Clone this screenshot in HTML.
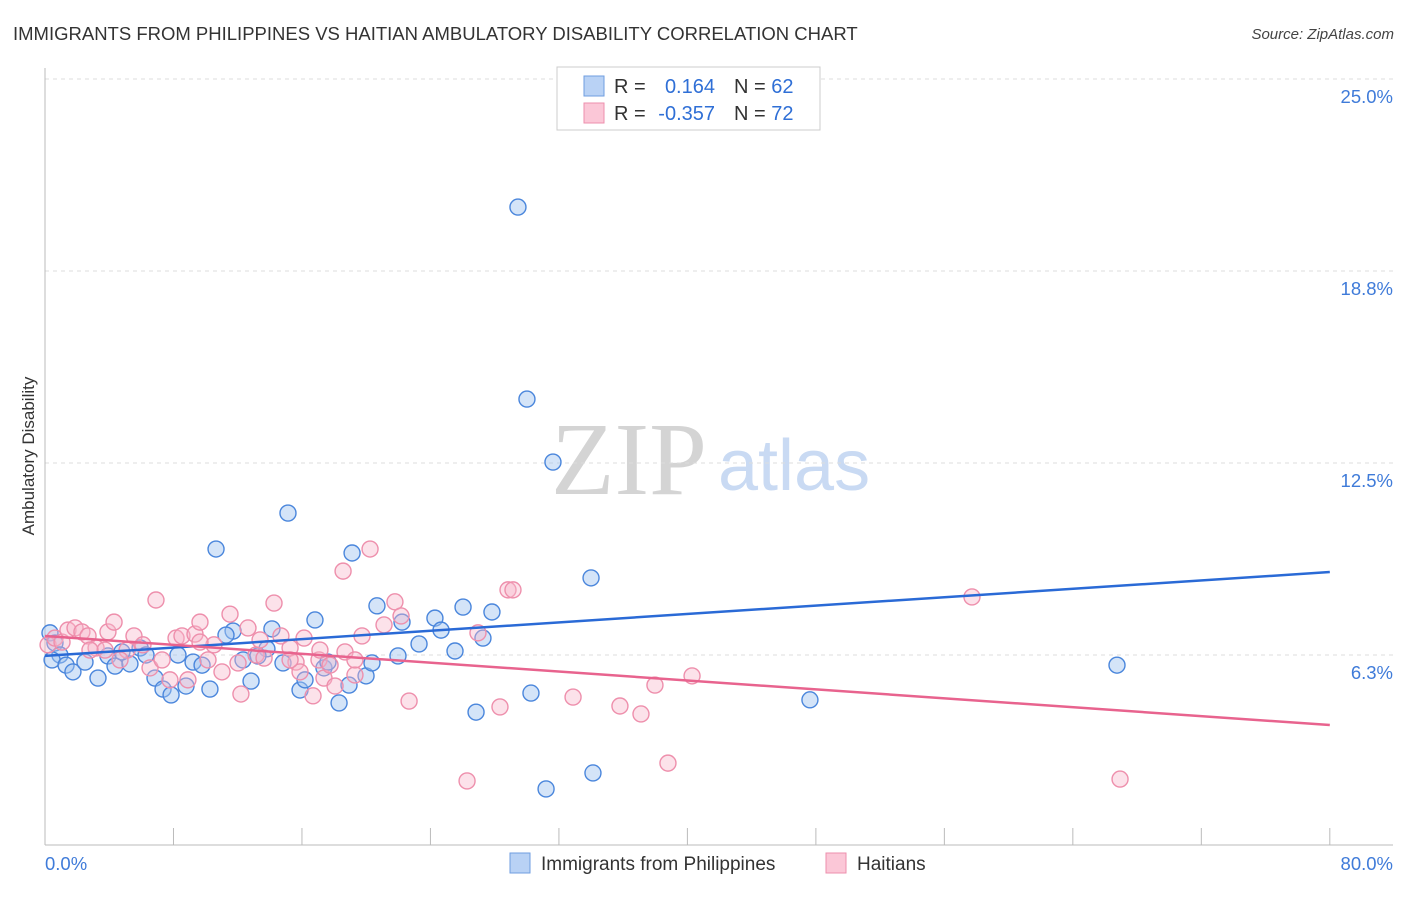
<!DOCTYPE html>
<html><head><meta charset="utf-8"><style>
body{margin:0;background:#fff;font-family:"Liberation Sans",sans-serif;}
</style></head><body>
<svg id="chart" width="1406" height="892" xmlns="http://www.w3.org/2000/svg" style="font-family:'Liberation Sans',sans-serif">
<text x="13" y="40" font-size="18.5" fill="#333">IMMIGRANTS FROM PHILIPPINES VS HAITIAN AMBULATORY DISABILITY CORRELATION CHART</text>
<text x="1394" y="39" font-size="15" fill="#444" font-style="italic" text-anchor="end">Source: ZipAtlas.com</text>
<text x="551" y="494" style="font-family:'Liberation Serif',serif;font-size:104px" fill="#d4d4d4">ZIP</text>
<text x="718" y="490" font-size="72" fill="#c9daf3">atlas</text>
<text transform="translate(34,456) rotate(-90)" font-size="17" fill="#333" text-anchor="middle">Ambulatory Disability</text>
<g id="grid"></g><g id="axes"></g><g id="pts"></g><g id="lines"></g>
<g>
<rect x="557" y="67" width="263" height="63" fill="#fff" stroke="#ccc"/>
<rect x="584" y="76" width="20" height="20" fill="#b9d2f5" stroke="#6f9ee0"/>
<rect x="584" y="103" width="20" height="20" fill="#fbc7d7" stroke="#ee8fac"/>
<text x="614" y="93" font-size="20" fill="#333">R =</text>
<text x="715" y="93" font-size="20" fill="#2f6fd6" text-anchor="end">0.164</text>
<text x="734" y="93" font-size="20" fill="#333">N = <tspan fill="#2f6fd6">62</tspan></text>
<text x="614" y="120" font-size="20" fill="#333">R =</text>
<text x="715" y="120" font-size="20" fill="#2f6fd6" text-anchor="end">-0.357</text>
<text x="734" y="120" font-size="20" fill="#333">N = <tspan fill="#2f6fd6">72</tspan></text>
</g>
<g>
<rect x="510" y="853" width="20" height="20" fill="#b9d2f5" stroke="#6f9ee0"/>
<text x="541" y="870" font-size="19" fill="#333">Immigrants from Philippines</text>
<rect x="826" y="853" width="20" height="20" fill="#fbc7d7" stroke="#ee8fac"/>
<text x="857" y="870" font-size="19" fill="#333">Haitians</text>
</g>
</svg>
<script>
const yTicks=[6.25,12.5,18.75,25];
const yTickLabels=["6.3%","12.5%","18.8%","25.0%"];
const xTicks=[0,8,16,24,32,40,48,56,64,72,80];
const xEndLabels=["0.0%","80.0%"];
const blueX=[29.45,30.01,31.63,15.13,10.65,19.12,34.0,20.67,26.03,27.83,24.28,16.81,22.23,11.71,14.13,24.66,11.27,27.27,23.29,25.53,21.98,13.82,66.75,47.63,30.26,26.84,34.12,31.2,0.31,0.62,0.93,0.44,1.31,1.74,2.49,3.30,3.92,4.36,5.29,4.79,5.92,6.29,6.85,7.35,7.85,8.28,8.78,9.22,9.78,10.27,12.33,12.83,13.26,14.82,15.88,16.19,17.37,17.62,18.31,18.93,19.99,20.36];
const blueY=[20.83,14.58,12.53,10.87,9.70,9.57,8.76,7.85,7.81,7.65,7.45,7.39,7.32,7.03,7.10,7.06,6.90,6.80,6.61,6.38,6.22,6.45,5.92,4.79,5.01,4.39,2.41,1.89,6.97,6.64,6.25,6.09,5.92,5.70,6.02,5.50,6.22,5.89,5.96,6.35,6.48,6.25,5.50,5.14,4.95,6.25,5.24,6.02,5.92,5.14,6.09,5.40,6.22,5.99,5.11,5.44,5.83,6.02,4.69,5.27,5.57,5.99];
const pinkX=[0.19,0.62,1.06,1.43,1.87,2.30,2.68,3.18,3.74,3.92,4.30,5.11,5.54,6.10,6.54,6.91,7.29,7.78,8.16,8.53,8.90,9.34,9.65,10.15,10.52,11.02,11.52,12.02,12.20,12.64,13.14,13.64,14.26,14.69,15.26,15.63,15.88,16.13,16.69,17.06,17.37,18.06,18.56,19.30,19.74,20.24,21.11,21.79,22.17,22.67,26.96,28.83,29.14,26.28,28.33,32.88,35.80,37.11,37.98,38.79,40.29,57.72,66.94,2.80,4.67,9.65,13.39,17.12,17.75,18.68,19.30,15.26];
const pinkY=[6.58,6.80,6.67,7.06,7.13,7.00,6.87,6.48,6.41,7.00,7.32,6.41,6.87,6.58,5.83,8.04,6.09,5.44,6.80,6.87,5.44,6.93,7.32,6.09,6.58,5.70,7.58,5.99,4.98,7.13,6.25,6.15,7.94,6.87,6.48,6.02,5.70,6.80,4.92,6.09,5.50,5.24,8.98,5.60,6.87,9.70,7.23,7.98,7.52,4.75,6.97,8.37,8.37,2.15,4.56,4.88,4.59,4.33,5.27,2.73,5.57,8.14,2.21,6.41,6.09,6.67,6.74,6.41,5.92,6.35,6.09,6.09];
const trendX=[0,80];
const blueTrend=[6.22,8.95];
const pinkTrend=[6.87,3.97];
const NS="http://www.w3.org/2000/svg";
const xs=v=>45+v*16.06, ys=v=>655-(v-6.25)*30.72;
function mk(tag,attrs,parent){const e=document.createElementNS(NS,tag);for(const k in attrs)e.setAttribute(k,attrs[k]);document.getElementById(parent).appendChild(e);return e;}
yTicks.forEach((t,i)=>{
 const l=mk('line',{x1:45,x2:1393,y1:ys(t),y2:ys(t),stroke:'#ddd','stroke-dasharray':'4,4'},'grid');
 
 
 const tx=mk('text',{x:1393,y:ys(t)+24,'font-size':18.5,fill:'#3f7bd9','text-anchor':'end'},'grid');
 tx.textContent=yTickLabels[i];
 
 
});
const ya=mk('line',{x1:45,x2:45,y1:68,y2:845,stroke:'#bbb'},'axes');


const xa=mk('line',{x1:45,x2:1393,y1:845,y2:845,stroke:'#bbb'},'axes');


xTicks.forEach(t=>{
 const l=mk('line',{x1:xs(t),x2:xs(t),y1:828,y2:845,stroke:'#bbb'},'axes');
 
 
});
['start','end'].forEach((a,i)=>{
 const tx=mk('text',{x:i?1393:45,y:870,'font-size':18.5,fill:'#3f7bd9','text-anchor':a},'axes');
 tx.textContent=xEndLabels[i];
 
 
});
blueX.forEach((v,i)=>{
 const c=mk('circle',{cx:xs(v),cy:ys(blueY[i]),r:8,fill:'rgba(160,196,240,0.45)',stroke:'#4a86dc','stroke-width':1.4},'pts');
 
 
});
pinkX.forEach((v,i)=>{
 const c=mk('circle',{cx:xs(v),cy:ys(pinkY[i]),r:8,fill:'rgba(248,182,202,0.4)',stroke:'#ee8fac','stroke-width':1.4},'pts');
 
 
});
const bl=mk('line',{x1:xs(trendX[0]),x2:xs(trendX[1]),y1:ys(blueTrend[0]),y2:ys(blueTrend[1]),stroke:'#2a6ad6','stroke-width':2.5},'lines');


const pl=mk('line',{x1:xs(trendX[0]),x2:xs(trendX[1]),y1:ys(pinkTrend[0]),y2:ys(pinkTrend[1]),stroke:'#e8638e','stroke-width':2.5},'lines');


</script>
</body></html>
